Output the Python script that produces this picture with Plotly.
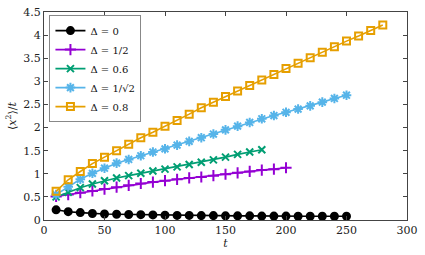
import plotly.graph_objects as go

t_d0 = list(range(10, 251, 10))
v_d0 = [0.22, 0.18, 0.16, 0.14, 0.13, 0.125, 0.12, 0.115, 0.11, 0.105, 0.10, 0.10, 0.095,
        0.095, 0.09, 0.09, 0.09, 0.085, 0.085, 0.085, 0.08, 0.08, 0.08, 0.08, 0.08]

t_d05 = list(range(10, 201, 10))
v_d05 = [0.51, 0.55, 0.59, 0.63, 0.67, 0.71, 0.75, 0.79, 0.82, 0.85, 0.88, 0.91, 0.93,
         0.96, 0.99, 1.02, 1.05, 1.08, 1.10, 1.13]

t_d06 = list(range(10, 181, 10))
v_d06 = [0.50, 0.60, 0.70, 0.78, 0.85, 0.91, 0.96, 1.01, 1.06, 1.10, 1.15, 1.20, 1.25,
         1.30, 1.36, 1.42, 1.47, 1.52]

t_d07 = list(range(10, 251, 10))
v_d07 = [0.55, 0.72, 0.88, 1.01, 1.12, 1.23, 1.31, 1.39, 1.47, 1.54, 1.62, 1.70, 1.78,
         1.86, 1.95, 2.03, 2.11, 2.19, 2.26, 2.33, 2.40, 2.47, 2.55, 2.63, 2.70]

t_d08 = list(range(10, 281, 10))
v_d08 = [0.62, 0.87, 1.05, 1.22, 1.36, 1.50, 1.64, 1.78, 1.90, 2.03, 2.15, 2.29, 2.43,
         2.55, 2.67, 2.79, 2.91, 3.03, 3.15, 3.28, 3.39, 3.51, 3.63, 3.75, 3.87, 3.98,
         4.10, 4.22]

x_ticks = [0, 50, 100, 150, 200, 250, 300]
y_ticks = [0, 0.5, 1, 1.5, 2, 2.5, 3, 3.5, 4, 4.5]
y_tick_labels = ["0", "0.5", "1", "1.5", "2", "2.5", "3", "3.5", "4", "4.5"]

series = [
    ("Δ = 0", t_d0, v_d0, "#000000", "circle", 7),
    ("Δ = 1/2", t_d05, v_d05, "#9400d3", "cross-thin", 8),
    ("Δ = 0.6", t_d06, v_d06, "#009e73", "x-thin", 7),
    ("Δ = 1/√2", t_d07, v_d07, "#56b4e9", "asterisk", 8),
    ("Δ = 0.8", t_d08, v_d08, "#e69f00", "square-open", 7),
]

fig = go.Figure()
for name, tx, vy, col, sym, sz in series:
    fig.add_trace(go.Scatter(
        x=tx, y=vy, name=name, mode="lines+markers",
        line=dict(color=col, width=1.6),
        marker=dict(symbol=sym, size=sz, color=col,
                    line=dict(color=col, width=2)),
    ))

font = dict(family="DejaVu Serif", size=11, color="#222")
axis_common = dict(
    showline=True, linecolor="#444", linewidth=1, mirror="ticks",
    ticks="inside", ticklen=4, tickcolor="#444", showgrid=False,
    zeroline=False, tickfont=font, automargin=False, ticklabeloverflow="allow",
)
fig.update_layout(
    width=425, height=255,
    margin=dict(l=44, r=18, t=12, b=35),
    paper_bgcolor="white", plot_bgcolor="white",
    font=font,
    xaxis=dict(range=[0, 300], tickvals=x_ticks, **axis_common,
               title=dict(text="<i>t</i>", font=font, standoff=1)),
    yaxis=dict(range=[0, 4.5], tickvals=y_ticks, ticktext=y_tick_labels, **axis_common,
               title=dict(text="⟨<i>x</i><sup>2</sup>⟩/<i>t</i>", font=font, standoff=4)),
    legend=dict(x=0.015, y=0.985, xanchor="left", yanchor="top",
                bordercolor="#888", borderwidth=1, bgcolor="white",
                font=dict(family="DejaVu Serif", size=10, color="#111"),
                tracegroupgap=0, itemwidth=30),
    showlegend=True,
)
fig.write_html("out.html", config={"displayModeBar": False},
               post_script="document.body.style.margin='0';document.body.style.overflow='hidden';")
